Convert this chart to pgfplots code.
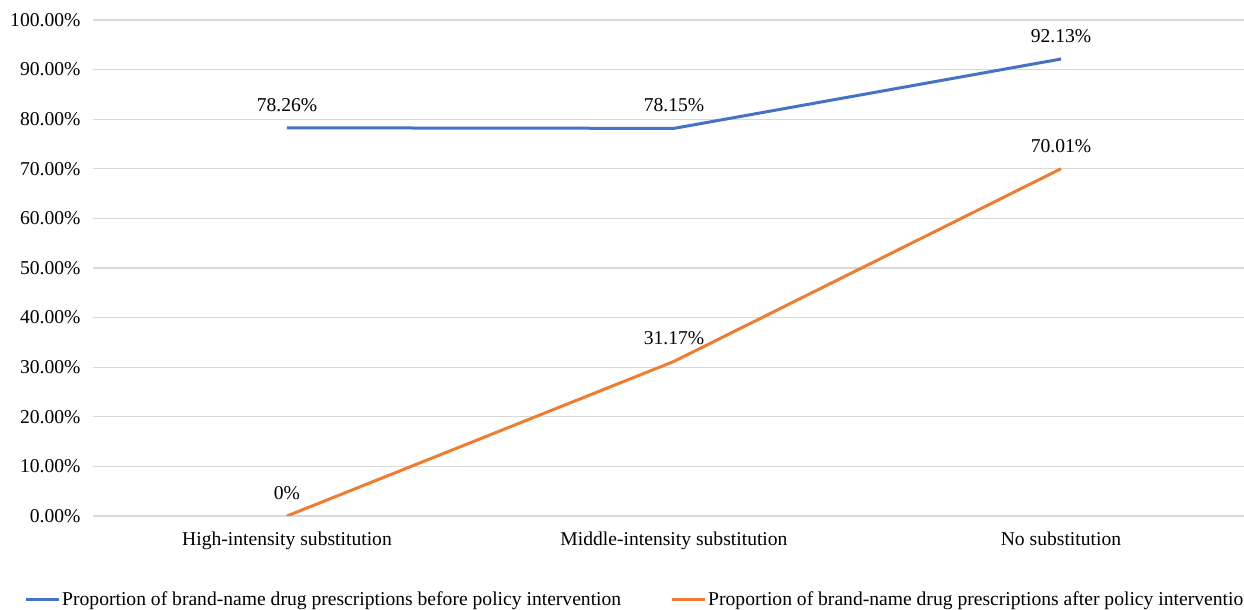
\documentclass[border=0pt]{standalone}
\usepackage{pgfplots}
\pgfplotsset{compat=1.18}
\usepackage{fontspec}
\setmainfont{Liberation Serif}
\definecolor{cblue}{HTML}{4472C4}
\definecolor{corange}{HTML}{ED7D31}
\definecolor{cgrid}{HTML}{D9D9D9}
\begin{document}
\begin{tikzpicture}
\useasboundingbox (0,0) rectangle (622pt,305pt);
\begin{scope}
\clip (0,0) rectangle (622pt,305pt);
\begin{axis}[
  at={(46.75pt,47pt)}, anchor=south west,
  scale only axis, width=580.5pt, height=248pt,
  xmin=-0.5, xmax=2.5, ymin=0, ymax=100,
  xtick={0,1,2},
  xticklabels={High-intensity substitution, Middle-intensity substitution, No substitution},
  ytick={0,10,...,100},
  yticklabel={\pgfmathprintnumber[fixed,fixed zerofill,precision=2]{\tick}\%},
  /pgf/number format/assume math mode=true,
  ymajorgrids, grid style={cgrid, line width=0.6pt},
  axis line style={draw=none},
  major tick length=0pt,
  ticklabel style={font=\fontsize{9.8}{11}\selectfont},
  yticklabel style={xshift=-3pt},
  xticklabel style={yshift=-4.5pt},
  point meta=explicit symbolic,
  nodes near coords,
  every node near coord/.append style={font=\fontsize{9.8}{11}\selectfont, anchor=center, yshift=11.5pt, text=black},
  legend columns=2,
  legend style={draw=none, fill=none, at={(-0.060,-0.169)}, anchor=west, inner sep=0pt,
    font=\fontsize{9.8}{11}\selectfont,
    nodes={inner xsep=1pt},
    /tikz/every even column/.append style={column sep=23.5pt}},
  legend image code/.code={\draw[#1, line width=1.5pt] (0pt,0pt) -- (16.5pt,0pt);},
]
\addplot[cblue, line width=1.5pt] coordinates {(0,78.26) [78.26\%] (1,78.15) [78.15\%] (2,92.13) [92.13\%]};
\addlegendentry{Proportion of brand-name drug prescriptions before policy intervention}
\addplot[corange, line width=1.5pt] coordinates {(0,0) [0\%] (1,31.17) [31.17\%] (2,70.01) [70.01\%]};
\addlegendentry{Proportion of brand-name drug prescriptions after policy intervention}
\end{axis}
\end{scope}
\end{tikzpicture}
\end{document}
